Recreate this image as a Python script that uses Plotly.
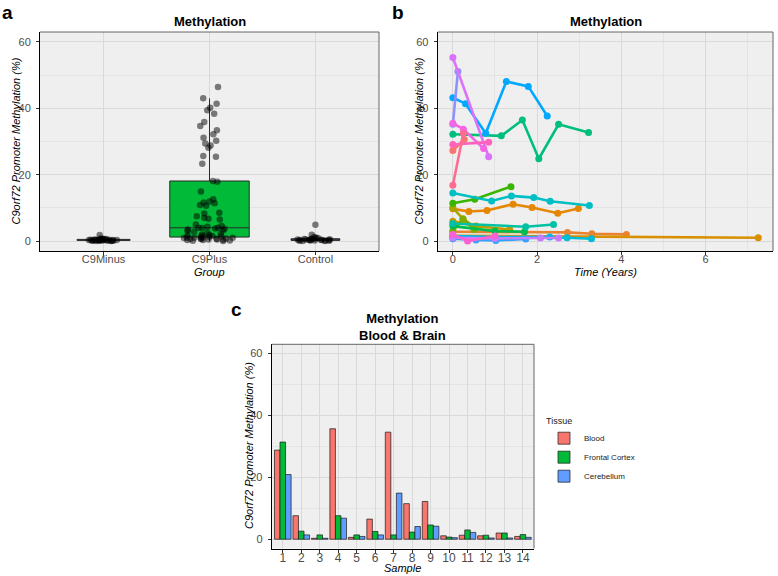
import plotly.graph_objects as go

W, H = 778, 576
def px(x): return x / W
def py(y): return 1 - y / H

# ---------------- Panel a data ----------------
groups = ["C9Minus", "C9Plus", "Control"]
c9minus = [0.0, 0.1, 0.1, 0.2, 0.2, 0.2, 0.3, 0.3, 0.3, 0.3, 0.4, 0.4, 0.4, 0.5, 0.5,
           0.5, 0.6, 0.6, 0.7, 0.2, 0.1, 0.3, 0.0, 0.4, 0.2, 0.3, 0.5, 0.8, 1.8, 0.1]
c9plus = [0.0, 0.1, 0.2, 0.3, 0.3, 0.4, 0.5, 0.5, 0.6, 0.7, 0.7, 0.8, 0.8, 0.9, 1.0, 1.0, 1.1, 1.1,
          1.2,
          1.3, 1.4, 1.5, 1.6, 1.7, 1.8, 2.0, 2.2, 2.5, 2.8, 3.0, 3.2, 3.5, 3.7, 3.8, 3.9, 4.0,
          4.0,
          4.3, 4.5, 5.0, 6.5, 6.7, 7.0, 7.5, 8.3, 8.5, 10.6, 10.9, 11.4, 11.6, 11.9, 12.6, 14.9, 17.9,
          18.1,
          23.3, 25.4, 25.6, 28.1, 28.8, 29.4, 30.2, 31.1, 32.2, 33.4, 34.7, 35.9, 38.4, 39.4,
          40.2, 41.4, 43.0, 46.4]
control = [0.0, 0.1, 0.2, 0.2, 0.3, 0.3, 0.4, 0.4, 0.5, 0.5, 0.6, 0.7, 0.8, 0.9, 1.0,
           1.2, 1.9, 4.9, 0.2, 0.1, 0.3, 0.6, 0.4, 0.0, 0.5]

# ---------------- Panel b data (time in years, methylation %) ----------------
patient_times = [
    [0, 0.27],
    [0, 2.72, 3.3, 4.12],
    [0, 0.38, 0.81, 1.43, 1.88, 2.49, 2.98],
    [0, 7.25],
    [0, 0.55, 1.35],
    [0, 0.24, 0.55],
    [0, 0.24, 0.5],
    [0, 0.52, 1.38],
    [0, 1.0, 1.7],
    [0, 1.15, 1.65, 2.04, 2.51, 3.22],
    [0, 1.73, 2.39],
    [0, 0.92, 1.39, 1.92, 2.31, 3.24],
    [0, 2.71, 3.29],
    [0, 1.0, 2.3],
    [0, 0.3, 0.78, 1.27, 1.79, 2.24],
    [0, 0.55, 1.02, 1.73],
    [0, 0.12],
    [0, 1.0, 2.08, 2.51],
    [0, 0.85],
    [0, 0.25, 0.73],
    [0, 0.85],
    [0, 0.25],
    [0, 0.35, 1.0],
]
patient_values = [
    [27.3, 30.6],
    [2.8, 2.6, 2.2, 2.0],
    [9.7, 8.9, 9.2, 11.1, 10.1, 8.4, 9.8],
    [1.6, 1.0],
    [6.0, 4.5, 3.5],
    [10.0, 6.7, 4.0],
    [3.0, 6.6, 3.5],
    [11.4, 12.6, 16.4],
    [4.5, 3.0, 2.8],
    [32.2, 31.7, 36.5, 24.8, 35.2, 32.7],
    [5.3, 4.3, 5.0],
    [14.5, 12.1, 13.6, 13.1, 12.0, 10.7],
    [1.2, 1.0, 0.7],
    [1.5, 1.2, 1.2],
    [43.2, 41.4, 32.5, 48.1, 46.6, 37.7],
    [0.7, 0.3, 0.2, 0.6],
    [35.2, 51.1],
    [1.0, 0.8, 0.9, 0.9],
    [55.3, 25.4],
    [35.5, 33.7, 27.9],
    [29.1, 29.8],
    [16.8, 32.5],
    [2.0, 0.0, 1.5],
]
patient_colors = ["#F8766D", "#EA8331", "#E58700", "#D89000", "#C49A00", "#A3A500",
                  "#7CAE00", "#39B600", "#00BB4E", "#00BF7D", "#00C1A3", "#00BFC4",
                  "#00BCD8", "#00B4EF", "#00A9FF", "#35A2FF", "#8F91FF", "#C77CFF",
                  "#DC71FA", "#F564E3", "#FF62BC", "#FF6C91", "#FD61D1"]

# ---------------- Panel c data ----------------
samples = [str(i) for i in range(1, 15)]
blood = [28.8, 7.6, 0.3, 35.7, 0.6, 6.5, 34.6, 11.5, 12.2, 1.1, 1.3, 1.1, 2.0, 0.9]
frontal_cortex = [31.4, 2.6, 1.4, 7.6, 1.4, 2.5, 1.4, 2.3, 4.6, 0.7, 3.0, 1.3, 2.0, 1.5]
cerebellum = [20.9, 1.4, 0.3, 6.8, 0.9, 1.4, 14.9, 4.1, 4.2, 0.5, 2.2, 0.4, 0.4, 0.6]

FONT = "Liberation Sans, Arial, Helvetica, sans-serif"
fig = go.Figure()

# Panel a boxes
box_specs = [
    (groups[0], c9minus, "#F8766D", 0.50, 0.80),
    (groups[1], c9plus, "#00BA38", 0.75, 0.66),
    (groups[2], control, "#619CFF", 0.46, 0.87),
]
for name, vals, fill, wdt, jit in box_specs:
    fig.add_trace(go.Box(
        x=[name] * len(vals), y=vals, name=name, xaxis="x", yaxis="y",
        boxpoints="all", jitter=jit, pointpos=0, width=wdt,
        fillcolor=fill, line=dict(color="#2b2b2b", width=1),
        marker=dict(color="rgba(0,0,0,0.5)", size=6.5, line=dict(width=0)),
        whiskerwidth=0, quartilemethod="inclusive", showlegend=False,
        hoverinfo="y",
    ))

# Panel b lines
for t, v, c in zip(patient_times, patient_values, patient_colors):
    fig.add_trace(go.Scatter(
        x=t, y=v, mode="lines+markers", xaxis="x2", yaxis="y2",
        line=dict(color=c, width=2.6), marker=dict(color=c, size=7),
        showlegend=False,
    ))

# Panel c bars
for name, vals, col in [("Blood", blood, "#F8766D"),
                        ("Frontal Cortex", frontal_cortex, "#00BA38"),
                        ("Cerebellum", cerebellum, "#619CFF")]:
    fig.add_trace(go.Bar(
        x=samples, y=vals, name=name, xaxis="x3", yaxis="y3",
        marker=dict(color=col, line=dict(color="#1a1a1a", width=0.7)),
    ))

grid = "#D9D9D9"
minor_grid = "#E4E4E4"
tickfont = dict(family=FONT, size=11, color="#4D4D4D")

def yaxis(domain, anchor):
    return dict(domain=domain, anchor=anchor, range=[-3, 63], tickvals=[0, 20, 40, 60],
                showgrid=True, gridcolor=grid, gridwidth=1,
                minor=dict(tickvals=[10, 30, 50], showgrid=True, gridcolor=minor_grid,
                           gridwidth=0.6, ticks=""),
                zeroline=False, showline=True, linecolor="black", linewidth=1,
                ticks="outside", ticklen=3, tickcolor="#333333", tickfont=tickfont,
                ticklabelstandoff=3)

ydom_top = [py(251), py(32)]
ydom_c = [py(548.5), py(344.3)]

fig.update_layout(
    width=W, height=H, autosize=False,
    margin=dict(l=0, r=0, t=0, b=0),
    paper_bgcolor="white", plot_bgcolor="#EFEFEF",
    font=dict(family=FONT, color="black"),
    boxmode="overlay", barmode="group", bargap=0.1, bargroupgap=0,
    xaxis=dict(domain=[px(40), px(379)], anchor="y", type="category",
               categoryorder="array", categoryarray=groups, range=[-0.6, 2.6],
               showgrid=True, gridcolor=grid, zeroline=False, showline=True,
               linecolor="black", linewidth=1, ticks="outside", ticklen=3,
               tickcolor="#333333", tickfont=tickfont, ticklabelstandoff=-5),
    yaxis=yaxis(ydom_top, "x"),
    xaxis2=dict(domain=[px(437.7), px(773)], anchor="y2", range=[-0.36, 7.6],
                tickvals=[0, 2, 4, 6], showgrid=True, gridcolor=grid,
                minor=dict(tickvals=[1, 3, 5, 7], showgrid=True, gridcolor=minor_grid,
                           gridwidth=0.6, ticks=""),
                zeroline=False, showline=True, linecolor="black", linewidth=1,
                ticks="outside", ticklen=3, tickcolor="#333333", tickfont=tickfont,
                ticklabelstandoff=-5),
    yaxis2=yaxis(ydom_top, "x2"),
    xaxis3=dict(domain=[px(271.7), px(534)], anchor="y3", type="category",
                categoryorder="array", categoryarray=samples, range=[-0.6, 13.6],
                showgrid=True, gridcolor=grid, zeroline=False, showline=True,
                linecolor="black", linewidth=1, ticks="outside", ticklen=3,
                tickcolor="#333333", tickfont=dict(family=FONT, size=12, color="#4D4D4D"),
                ticklabelstandoff=-5),
    yaxis3=yaxis(ydom_c, "x3"),
    legend=dict(x=px(544), y=py(412), xanchor="left", yanchor="top",
                title=dict(text="Tissue", font=dict(family=FONT, size=9, color="#222")),
                font=dict(family=FONT, size=8, color="#222"),
                bgcolor="rgba(0,0,0,0)", tracegroupgap=0, itemwidth=30),
)

# top/right panel borders
shapes = []
for xr, yr in [("x", "y"), ("x2", "y2"), ("x3", "y3")]:
    shapes.append(dict(type="line", xref=f"{xr} domain", yref=f"{yr} domain",
                       x0=0, x1=1, y0=1, y1=1, line=dict(color="#666666", width=1)))
    shapes.append(dict(type="line", xref=f"{xr} domain", yref=f"{yr} domain",
                       x0=1, x1=1, y0=0, y1=1, line=dict(color="#666666", width=1)))
fig.update_layout(shapes=shapes)

ytitle = "<i>C9orf72 Promoter Methylation (%)</i>"
annotations = [
    # panel letters
    dict(text="<b>a</b>", x=px(0), y=py(12), xanchor="left", yanchor="middle",
         font=dict(size=19)),
    dict(text="<b>b</b>", x=px(390), y=py(12), xanchor="left", yanchor="middle",
         font=dict(size=19)),
    dict(text="<b>c</b>", x=px(229), y=py(309), xanchor="left", yanchor="middle",
         font=dict(size=19)),
    # titles
    dict(text="<b>Methylation</b>", x=px(209.5), y=py(22), xanchor="center",
         yanchor="middle", font=dict(size=13)),
    dict(text="<b>Methylation</b>", x=px(605.5), y=py(22), xanchor="center",
         yanchor="middle", font=dict(size=13)),
    dict(text="<b>Methylation<br>Blood & Brain</b>", x=px(403), y=py(327),
         xanchor="center", yanchor="middle", font=dict(size=13)),
    # axis titles
    dict(text=ytitle, x=px(15), y=py(141.5), textangle=-90, xanchor="center",
         yanchor="middle", font=dict(size=11)),
    dict(text=ytitle, x=px(418), y=py(141.5), textangle=-90, xanchor="center",
         yanchor="middle", font=dict(size=11)),
    dict(text=ytitle, x=px(249), y=py(446), textangle=-90, xanchor="center",
         yanchor="middle", font=dict(size=11)),
    dict(text="<i>Group</i>", x=px(209.5), y=py(271.5), xanchor="center",
         yanchor="middle", font=dict(size=11)),
    dict(text="<i>Time (Years)</i>", x=px(605.5), y=py(271.5), xanchor="center",
         yanchor="middle", font=dict(size=11)),
    dict(text="<i>Sample</i>", x=px(403), y=py(568), xanchor="center",
         yanchor="middle", font=dict(size=11)),
]
for a in annotations:
    a.update(xref="paper", yref="paper", showarrow=False)
    a["font"] = dict(family=FONT, color="black", **a["font"])
fig.update_layout(annotations=annotations)

fig.write_html("out.html", config={"displayModeBar": False},
               post_script="document.body.style.margin='0px';document.body.style.overflow='hidden';")
